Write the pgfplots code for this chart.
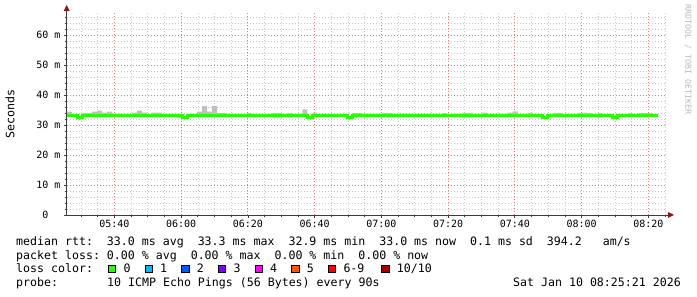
\documentclass[border=0pt]{standalone}
\usepackage{pgfplots}
\pgfplotsset{compat=1.18}
\usepgfplotslibrary{fillbetween}
\usepackage{pgfplotstable}
\usepackage{fontspec}
\newfontfamily\mono{DejaVu Sans Mono}
\definecolor{smoke}{RGB}{192,192,192}
\definecolor{medc}{RGB}{38,255,0}
\definecolor{majgrid}{RGB}{228,120,120}
\definecolor{mingrid}{RGB}{200,200,200}
\definecolor{arrowred}{RGB}{140,20,20}
\definecolor{axisc}{RGB}{60,60,60}
\definecolor{lc0}{RGB}{38,255,0}
\definecolor{lc1}{RGB}{0,184,255}
\definecolor{lc2}{RGB}{0,89,255}
\definecolor{lc3}{RGB}{126,0,255}
\definecolor{lc4}{RGB}{255,0,255}
\definecolor{lc5}{RGB}{255,85,0}
\definecolor{lc6}{RGB}{255,0,0}
\definecolor{lc10}{RGB}{161,0,0}
\pgfplotstableread{
x lo hi med
325.8 32.8 34.4 33.0
327.3 32.8 33.3 33.0
328.8 32.3 33.2 32.4
330.3 32.8 34.0 33.0
331.8 32.8 34.0 33.0
333.3 32.8 34.4 33.0
334.8 32.8 34.8 33.0
336.3 32.8 34.1 33.0
337.8 32.8 34.4 33.0
339.3 32.8 33.8 33.0
340.8 32.9 33.8 33.3
342.3 32.8 33.6 33.0
343.8 32.8 33.6 33.0
345.3 32.8 34.1 33.0
346.8 32.8 34.8 33.0
348.3 32.8 34.1 33.0
349.8 32.8 33.3 33.0
351.3 32.8 34.1 33.0
352.8 32.8 34.1 33.0
354.3 32.8 33.3 33.0
355.8 32.8 33.3 33.0
357.3 32.8 33.3 33.0
358.8 32.3 33.6 33.0
360.3 32.2 33.0 32.4
361.8 32.8 33.3 33.0
363.3 32.8 33.3 33.0
364.8 32.8 34.4 33.0
366.3 32.8 36.3 33.0
367.8 32.8 34.4 33.0
369.3 32.8 36.3 33.0
370.8 32.8 33.9 33.0
372.3 32.8 33.9 33.0
373.8 32.6 33.8 33.3
375.3 32.8 33.3 33.0
376.8 32.8 33.3 33.0
378.3 32.8 33.3 33.0
379.8 32.8 33.9 33.0
381.3 32.8 33.3 33.0
382.8 32.8 33.3 33.0
384.3 32.8 33.3 33.0
385.8 32.8 33.3 33.0
387.3 32.4 34.0 33.0
388.8 32.4 34.0 33.0
390.3 32.8 33.3 33.0
391.8 32.5 33.9 33.0
393.3 32.8 33.3 33.0
394.8 32.8 33.8 33.0
396.3 32.8 35.2 33.0
397.8 32.2 33.2 32.4
399.3 32.6 33.9 33.0
400.8 32.8 33.3 33.0
402.3 32.8 33.6 33.0
403.8 32.8 33.3 33.0
405.3 32.8 33.3 33.0
406.8 32.8 33.6 33.0
408.3 32.8 33.3 33.0
409.8 32.2 33.1 32.4
411.3 32.9 33.9 33.3
412.8 32.9 33.9 33.3
414.3 32.8 33.8 33.0
415.8 32.8 33.8 33.0
417.3 32.8 33.8 33.0
418.8 32.8 33.8 33.0
420.3 32.8 34.0 33.3
421.8 32.5 33.9 33.3
423.3 32.8 33.8 33.3
424.8 32.8 33.8 33.0
426.3 32.8 33.8 33.0
427.8 32.8 33.8 33.0
429.3 32.8 33.8 33.0
430.8 32.8 33.3 33.0
432.3 32.9 33.8 33.3
433.8 32.9 33.8 33.3
435.3 32.8 33.3 33.0
436.8 32.8 33.3 33.0
438.3 32.8 33.9 33.0
439.8 32.8 33.3 33.0
441.3 32.8 33.8 33.3
442.8 32.8 33.8 33.3
444.3 32.5 34.0 33.3
445.8 32.5 34.0 33.3
447.3 32.8 33.3 33.0
448.8 32.8 33.3 33.0
450.3 32.8 34.1 33.0
451.8 32.8 33.3 33.0
453.3 32.8 33.3 33.0
454.8 32.7 33.8 33.3
456.3 32.8 33.8 33.3
457.8 32.8 34.1 33.3
459.3 32.8 34.5 33.0
460.8 32.8 33.3 33.0
462.3 32.8 33.3 33.0
463.8 32.8 34.0 33.0
465.3 32.8 33.3 33.0
466.8 32.8 33.3 33.0
468.3 32.2 33.1 32.4
469.8 32.8 33.3 33.0
471.3 32.8 33.9 33.0
472.8 32.8 33.9 33.0
474.3 32.8 33.3 33.0
475.8 32.8 33.3 33.0
477.3 32.8 33.3 33.0
478.8 32.8 34.0 33.0
480.3 32.8 34.1 33.0
481.8 32.8 33.9 33.0
483.3 32.8 33.3 33.0
484.8 32.5 34.0 33.0
486.3 32.8 33.3 33.0
487.8 32.8 33.3 33.0
489.3 32.2 33.1 32.4
490.8 32.8 33.3 33.0
492.3 32.8 33.3 33.0
493.8 32.8 33.9 33.0
495.3 32.8 33.3 33.0
496.8 32.8 33.9 33.0
498.3 32.8 33.9 33.0
499.8 32.8 33.9 33.0
501.3 32.8 33.3 33.0
502.8 32.8 33.3 33.0
}\rtt
\begin{document}
\begin{tikzpicture}[x=1pt,y=1pt]
\path (0,0) rectangle (697,297);
\begin{axis}[
  at={(66.7pt,82pt)}, anchor=south west,
  scale only axis, width=599.3pt, height=202pt,
  xmin=325.7, xmax=505.3, ymin=0, ymax=67.3,
  axis x line*=bottom, axis y line*=left,
  axis line style={draw=axisc, line width=0.9pt, -},
  xtick={340,360,...,500},
  xticklabels={05:40,06:00,06:20,06:40,07:00,07:20,07:40,08:00,08:20},
  minor xtick={330,335,345,350,355,365,370,375,385,390,395,405,410,415,425,430,435,445,450,455,465,470,475,485,490,495,505},
  ytick={0,10,...,60},
  yticklabels={0\hphantom{mm},10 m,20 m,30 m,40 m,50 m,60 m},
  minor ytick={2,4,6,8,12,14,16,18,22,24,26,28,32,34,36,38,42,44,46,48,52,54,56,58,62,64,66},
  grid=both,
  major grid style={majgrid, line width=0.8pt, dash pattern=on 1pt off 2pt},
  minor grid style={mingrid, line width=0.6pt, dash pattern=on 1pt off 2pt},
  tick align=outside, major tick length=3pt, minor tick length=2pt,
  tick style={axisc, line width=0.7pt},
  ticklabel style={font=\mono\fontsize{10}{12}\selectfont, text=black},
  xticklabel style={anchor=north, inner sep=0pt, yshift=-2pt},
  yticklabel style={anchor=east, inner sep=0pt, xshift=-3pt},
  /pgf/number format/assume math mode=true,
  clip=true,
]
\addplot[name path=lo, draw=none, const plot mark left, forget plot] table[x=x,y=lo] {\rtt};
\addplot[name path=hi, draw=none, const plot mark left, forget plot] table[x=x,y=hi] {\rtt};
\addplot[fill=smoke, draw=none] fill between[of=hi and lo];
\addplot[medc, line width=3pt, const plot mark left, line cap=butt] table[x=x,y=med] {\rtt};
\end{axis}
% axis arrow heads
\draw[axisc, line width=0.9pt] (66.7,284) -- (66.7,287);
\draw[axisc, line width=0.9pt] (666,82) -- (669,82);
\fill[arrowred] (66.7,292) -- (63.7,286) -- (69.7,286) -- cycle;
\fill[arrowred] (674,82) -- (668,79) -- (668,85) -- cycle;
% y label
\node[rotate=90, font=\mono\fontsize{11.6}{13}\selectfont, inner sep=0pt] at (10,183) {Seconds};
% watermark
\node[rotate=-90, anchor=west, inner sep=0pt, font=\mono\fontsize{8.3}{10}\selectfont, text={rgb,255:red,185;green,185;blue,185}] at (688,293) {RRDTOOL / TOBI OETIKER};
% legend text
\begin{scope}[every node/.style={inner sep=0pt, font=\mono\fontsize{11.6}{13}\selectfont}]
\node[anchor=base west] at (16,51.3) {median rtt:~~33.0~ms~avg~~33.3~ms~max~~32.9~ms~min~~33.0~ms~now~~0.1~ms~sd~~394.2~~~am/s};
\node[anchor=base west] at (16,37.7) {packet loss:~0.00~\%~avg~~0.00~\%~max~~0.00~\%~min~~0.00~\%~now};
\node[anchor=base west] at (16,24) {loss color:};
\node[anchor=base west] at (16,10.3) {probe:};
\node[anchor=base west] at (107,10.3) {10~ICMP~Echo~Pings~(56~Bytes)~every~90s};
\node[anchor=base east] at (681,10.3) {Sat~Jan~10~08:25:21~2026};
\foreach \px/\c/\t in {108.3/lc0/0,145/lc1/1,181.7/lc2/2,218.3/lc3/3,255/lc4/4,291.7/lc5/5,328.3/lc6/{6-9},381.7/lc10/{10/10}}{
  \draw[black, line width=0.8pt, fill=\c] (\px,24.3) rectangle ++(7.5,7.5);
  \node[anchor=base west] at (\px+15,24) {\t};
}
\end{scope}
\end{tikzpicture}
\end{document}
